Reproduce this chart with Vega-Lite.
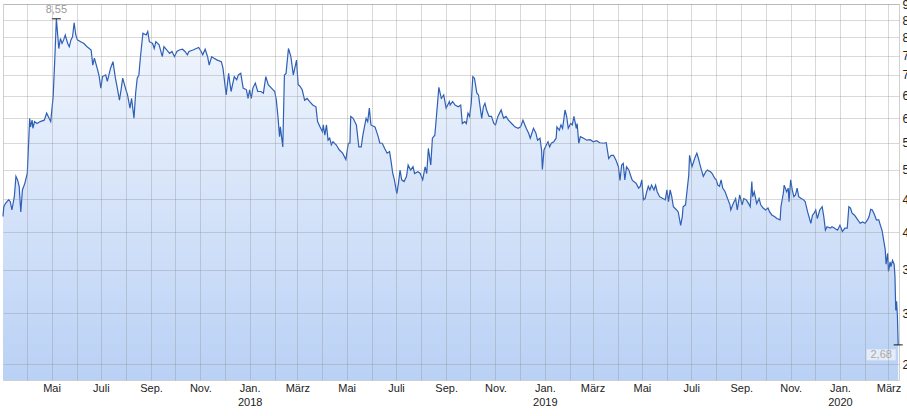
{
 "$schema": "https://vega.github.io/schema/vega-lite/v6.json",
 "width": 896, "height": 376,
 "autosize": {"type": "none"},
 "padding": {"left": 3, "top": 4, "right": 8, "bottom": 36},
 "background": "white",
 "config": {"font": "Liberation Sans", "view": {"stroke": "#d0d0d0", "strokeWidth": 1}},
 "datasets": {
  "prices": [
{"d":"2017-03-02","v":4.23},{"d":"2017-03-03","v":4.38},{"d":"2017-03-05","v":4.43},{"d":"2017-03-07","v":4.46},{"d":"2017-03-09","v":4.49},{"d":"2017-03-11","v":4.46},{"d":"2017-03-13","v":4.33},{"d":"2017-03-16","v":4.54},{"d":"2017-03-18","v":4.88},{"d":"2017-03-20","v":4.82},{"d":"2017-03-22","v":4.71},{"d":"2017-03-24","v":4.30},{"d":"2017-03-26","v":4.65},{"d":"2017-03-29","v":4.76},{"d":"2017-04-01","v":4.93},{"d":"2017-04-04","v":6.00},{"d":"2017-04-05","v":5.82},{"d":"2017-04-07","v":5.96},{"d":"2017-04-08","v":5.79},{"d":"2017-04-10","v":5.93},{"d":"2017-04-13","v":5.89},{"d":"2017-04-17","v":5.93},{"d":"2017-04-22","v":5.96},{"d":"2017-04-25","v":6.11},{"d":"2017-04-28","v":6.00},{"d":"2017-04-30","v":5.93},
{"d":"2017-05-03","v":6.48},{"d":"2017-05-05","v":7.38},{"d":"2017-05-07","v":8.55},{"d":"2017-05-10","v":7.69},{"d":"2017-05-12","v":7.97},{"d":"2017-05-14","v":7.83},{"d":"2017-05-16","v":7.93},{"d":"2017-05-18","v":8.07},{"d":"2017-05-21","v":7.83},{"d":"2017-05-23","v":7.74},{"d":"2017-05-25","v":7.93},{"d":"2017-05-27","v":8.02},{"d":"2017-05-29","v":8.43},{"d":"2017-05-31","v":8.07},{"d":"2017-06-02","v":7.93},{"d":"2017-06-06","v":7.88},{"d":"2017-06-10","v":7.83},{"d":"2017-06-14","v":7.74},{"d":"2017-06-19","v":7.65},{"d":"2017-06-21","v":7.25},{"d":"2017-06-23","v":7.43},{"d":"2017-06-27","v":7.13},{"d":"2017-06-29","v":6.96},{"d":"2017-07-01","v":6.68},{"d":"2017-07-03","v":6.96},{"d":"2017-07-07","v":7.00},{"d":"2017-07-09","v":6.84},{"d":"2017-07-13","v":7.17},{"d":"2017-07-16","v":7.34},{"d":"2017-07-19","v":6.92},{"d":"2017-07-21","v":6.72},{"d":"2017-07-24","v":6.40},{"d":"2017-07-26","v":6.64},{"d":"2017-07-28","v":6.92},{"d":"2017-08-01","v":6.64},{"d":"2017-08-03","v":6.52},{"d":"2017-08-06","v":6.22},{"d":"2017-08-08","v":6.44},{"d":"2017-08-11","v":6.00},{"d":"2017-08-13","v":6.56},{"d":"2017-08-15","v":6.92},{"d":"2017-08-17","v":7.00},{"d":"2017-08-19","v":7.47},{"d":"2017-08-22","v":8.12},{"d":"2017-08-26","v":8.07},{"d":"2017-08-28","v":8.17},
{"d":"2017-08-30","v":7.88},{"d":"2017-09-03","v":7.83},{"d":"2017-09-05","v":7.69},{"d":"2017-09-07","v":7.88},{"d":"2017-09-11","v":7.79},{"d":"2017-09-15","v":7.47},{"d":"2017-09-17","v":7.74},{"d":"2017-09-22","v":7.61},{"d":"2017-09-24","v":7.56},{"d":"2017-09-27","v":7.61},{"d":"2017-09-30","v":7.47},{"d":"2017-10-03","v":7.61},{"d":"2017-10-06","v":7.65},{"d":"2017-10-10","v":7.67},{"d":"2017-10-13","v":7.61},{"d":"2017-10-16","v":7.52},{"d":"2017-10-18","v":7.61},{"d":"2017-10-23","v":7.65},{"d":"2017-10-27","v":7.69},{"d":"2017-10-30","v":7.72},{"d":"2017-11-02","v":7.61},{"d":"2017-11-04","v":7.52},{"d":"2017-11-07","v":7.67},{"d":"2017-11-10","v":7.47},{"d":"2017-11-12","v":7.25},{"d":"2017-11-15","v":7.47},{"d":"2017-11-18","v":7.43},{"d":"2017-11-22","v":7.38},{"d":"2017-11-27","v":7.34},{"d":"2017-11-29","v":7.17},{"d":"2017-12-03","v":6.52},{"d":"2017-12-06","v":7.04},{"d":"2017-12-09","v":6.60},{"d":"2017-12-13","v":6.96},{"d":"2017-12-16","v":6.88},{"d":"2017-12-18","v":7.00},{"d":"2017-12-21","v":7.04},{"d":"2017-12-24","v":6.68},{"d":"2017-12-28","v":6.64},{"d":"2017-12-30","v":6.44},
{"d":"2018-01-01","v":6.64},{"d":"2018-01-03","v":6.44},{"d":"2018-01-05","v":6.68},{"d":"2018-01-08","v":6.80},{"d":"2018-01-11","v":6.60},{"d":"2018-01-15","v":6.60},{"d":"2018-01-18","v":6.56},{"d":"2018-01-21","v":6.96},{"d":"2018-01-24","v":6.76},{"d":"2018-01-28","v":6.68},{"d":"2018-02-01","v":6.60},{"d":"2018-02-03","v":6.40},{"d":"2018-02-05","v":6.04},{"d":"2018-02-07","v":5.62},{"d":"2018-02-08","v":5.82},{"d":"2018-02-11","v":5.42},{"d":"2018-02-13","v":7.00},{"d":"2018-02-15","v":7.04},{"d":"2018-02-18","v":7.69},{"d":"2018-02-21","v":7.47},{"d":"2018-02-24","v":7.00},{"d":"2018-02-28","v":7.38},{"d":"2018-03-02","v":6.76},
{"d":"2018-03-04","v":6.73},{"d":"2018-03-07","v":6.64},{"d":"2018-03-10","v":6.40},{"d":"2018-03-13","v":6.44},{"d":"2018-03-16","v":6.37},{"d":"2018-03-20","v":6.29},{"d":"2018-03-24","v":6.25},{"d":"2018-03-26","v":5.93},{"d":"2018-03-29","v":5.82},{"d":"2018-04-01","v":5.72},{"d":"2018-04-02","v":5.86},{"d":"2018-04-04","v":5.65},{"d":"2018-04-06","v":5.86},{"d":"2018-04-08","v":5.55},{"d":"2018-04-10","v":5.59},{"d":"2018-04-12","v":5.46},{"d":"2018-04-14","v":5.52},{"d":"2018-04-18","v":5.46},{"d":"2018-04-22","v":5.36},{"d":"2018-04-26","v":5.30},{"d":"2018-04-30","v":5.18},{"d":"2018-05-03","v":5.49},{"d":"2018-05-05","v":5.49},{"d":"2018-05-06","v":6.04},{"d":"2018-05-09","v":6.00},{"d":"2018-05-13","v":5.86},{"d":"2018-05-16","v":5.42},{"d":"2018-05-19","v":5.42},{"d":"2018-05-21","v":5.65},{"d":"2018-05-25","v":6.00},{"d":"2018-05-27","v":5.93},{"d":"2018-05-29","v":6.22},{"d":"2018-05-31","v":5.86},{"d":"2018-06-05","v":5.82},{"d":"2018-06-09","v":5.62},{"d":"2018-06-11","v":5.49},{"d":"2018-06-14","v":5.49},{"d":"2018-06-17","v":5.39},{"d":"2018-06-20","v":5.30},{"d":"2018-06-23","v":5.33},{"d":"2018-06-25","v":5.14},{"d":"2018-06-27","v":4.93},{"d":"2018-06-29","v":4.82},{"d":"2018-07-02","v":4.59},{"d":"2018-07-04","v":4.76},{"d":"2018-07-06","v":4.99},{"d":"2018-07-08","v":4.82},{"d":"2018-07-11","v":4.79},{"d":"2018-07-14","v":4.88},{"d":"2018-07-16","v":5.08},{"d":"2018-07-19","v":4.99},{"d":"2018-07-22","v":5.05},{"d":"2018-07-24","v":4.93},{"d":"2018-07-28","v":4.96},{"d":"2018-07-31","v":4.93},{"d":"2018-08-03","v":4.82},{"d":"2018-08-06","v":5.05},{"d":"2018-08-08","v":4.93},{"d":"2018-08-10","v":5.39},{"d":"2018-08-13","v":5.08},{"d":"2018-08-15","v":5.59},{"d":"2018-08-18","v":5.65},{"d":"2018-08-20","v":6.04},{"d":"2018-08-23","v":6.70},{"d":"2018-08-26","v":6.44},{"d":"2018-08-29","v":6.52},{"d":"2018-09-01","v":6.22},{"d":"2018-09-05","v":6.37},
{"d":"2018-09-06","v":6.29},{"d":"2018-09-09","v":6.37},{"d":"2018-09-12","v":6.29},{"d":"2018-09-16","v":6.25},{"d":"2018-09-19","v":6.29},{"d":"2018-09-21","v":5.89},{"d":"2018-09-24","v":5.93},{"d":"2018-09-26","v":5.89},{"d":"2018-09-28","v":6.11},{"d":"2018-09-30","v":6.04},{"d":"2018-10-02","v":6.33},{"d":"2018-10-04","v":6.96},{"d":"2018-10-06","v":6.92},{"d":"2018-10-09","v":6.56},{"d":"2018-10-11","v":6.52},{"d":"2018-10-13","v":6.25},{"d":"2018-10-15","v":6.00},{"d":"2018-10-17","v":6.25},{"d":"2018-10-19","v":6.33},{"d":"2018-10-21","v":6.18},{"d":"2018-10-24","v":6.04},{"d":"2018-10-27","v":6.04},{"d":"2018-10-30","v":5.89},{"d":"2018-11-01","v":5.86},{"d":"2018-11-04","v":6.04},{"d":"2018-11-08","v":6.18},{"d":"2018-11-11","v":6.00},{"d":"2018-11-14","v":6.04},{"d":"2018-11-17","v":5.96},{"d":"2018-11-21","v":5.89},{"d":"2018-11-25","v":5.82},{"d":"2018-11-29","v":5.79},{"d":"2018-12-02","v":5.82},{"d":"2018-12-05","v":5.96},{"d":"2018-12-09","v":5.79},{"d":"2018-12-12","v":5.69},{"d":"2018-12-14","v":5.59},{"d":"2018-12-18","v":5.79},{"d":"2018-12-21","v":5.69},{"d":"2018-12-23","v":5.55},{"d":"2018-12-26","v":5.59},{"d":"2018-12-28","v":5.36},{"d":"2018-12-29","v":5.00},{"d":"2018-12-31","v":5.36},
{"d":"2019-01-03","v":5.46},{"d":"2019-01-05","v":5.52},{"d":"2019-01-07","v":5.42},{"d":"2019-01-09","v":5.49},{"d":"2019-01-12","v":5.52},{"d":"2019-01-15","v":5.59},{"d":"2019-01-16","v":5.82},{"d":"2019-01-19","v":5.75},{"d":"2019-01-21","v":5.86},{"d":"2019-01-23","v":5.79},{"d":"2019-01-26","v":6.18},{"d":"2019-01-28","v":6.04},{"d":"2019-01-30","v":5.79},{"d":"2019-02-02","v":5.89},{"d":"2019-02-04","v":5.86},{"d":"2019-02-06","v":6.04},{"d":"2019-02-09","v":5.79},{"d":"2019-02-10","v":5.89},{"d":"2019-02-12","v":5.49},{"d":"2019-02-14","v":5.62},{"d":"2019-02-18","v":5.59},{"d":"2019-02-22","v":5.55},{"d":"2019-02-26","v":5.56},{"d":"2019-03-02","v":5.52},{"d":"2019-03-06","v":5.54},{"d":"2019-03-10","v":5.50},
{"d":"2019-03-15","v":5.49},{"d":"2019-03-18","v":5.50},{"d":"2019-03-21","v":5.20},{"d":"2019-03-24","v":5.26},{"d":"2019-03-27","v":5.26},{"d":"2019-03-30","v":5.17},{"d":"2019-04-02","v":5.05},{"d":"2019-04-04","v":4.81},{"d":"2019-04-06","v":5.08},{"d":"2019-04-08","v":5.11},{"d":"2019-04-10","v":4.82},{"d":"2019-04-12","v":5.05},{"d":"2019-04-15","v":4.99},{"d":"2019-04-17","v":4.90},{"d":"2019-04-19","v":4.82},{"d":"2019-04-21","v":4.79},{"d":"2019-04-24","v":4.76},{"d":"2019-04-27","v":4.68},{"d":"2019-04-29","v":4.71},{"d":"2019-05-01","v":4.82},{"d":"2019-05-03","v":4.49},{"d":"2019-05-05","v":4.51},{"d":"2019-05-07","v":4.62},{"d":"2019-05-09","v":4.71},{"d":"2019-05-11","v":4.65},{"d":"2019-05-13","v":4.73},{"d":"2019-05-16","v":4.65},{"d":"2019-05-18","v":4.73},{"d":"2019-05-20","v":4.62},{"d":"2019-05-23","v":4.54},{"d":"2019-05-27","v":4.51},{"d":"2019-05-30","v":4.49},{"d":"2019-06-01","v":4.65},{"d":"2019-06-03","v":4.46},{"d":"2019-06-05","v":4.65},{"d":"2019-06-07","v":4.54},{"d":"2019-06-09","v":4.38},{"d":"2019-06-13","v":4.33},{"d":"2019-06-15","v":4.30},{"d":"2019-06-18","v":4.10},{"d":"2019-06-20","v":4.23},{"d":"2019-06-21","v":4.38},{"d":"2019-06-24","v":4.41},{"d":"2019-06-26","v":4.65},{"d":"2019-06-28","v":4.90},{"d":"2019-06-29","v":5.26},{"d":"2019-07-02","v":5.05},{"d":"2019-07-04","v":5.14},{"d":"2019-07-06","v":5.23},{"d":"2019-07-08","v":5.30},{"d":"2019-07-10","v":5.20},{"d":"2019-07-12","v":5.08},{"d":"2019-07-16","v":4.88},{"d":"2019-07-19","v":4.96},{"d":"2019-07-21","v":4.99},{"d":"2019-07-25","v":4.96},{"d":"2019-07-27","v":4.93},{"d":"2019-07-30","v":4.85},{"d":"2019-08-01","v":4.82},{"d":"2019-08-03","v":4.73},{"d":"2019-08-05","v":4.71},{"d":"2019-08-07","v":4.82},{"d":"2019-08-09","v":4.68},{"d":"2019-08-12","v":4.62},{"d":"2019-08-15","v":4.51},{"d":"2019-08-18","v":4.41},{"d":"2019-08-19","v":4.33},{"d":"2019-08-22","v":4.43},{"d":"2019-08-25","v":4.51},{"d":"2019-08-27","v":4.33},{"d":"2019-08-30","v":4.57},{"d":"2019-09-02","v":4.41},{"d":"2019-09-04","v":4.51},{"d":"2019-09-07","v":4.49},{"d":"2019-09-10","v":4.43},{"d":"2019-09-12","v":4.38},
{"d":"2019-09-14","v":4.79},{"d":"2019-09-15","v":4.54},{"d":"2019-09-17","v":4.62},{"d":"2019-09-20","v":4.43},{"d":"2019-09-23","v":4.51},{"d":"2019-09-25","v":4.41},{"d":"2019-09-28","v":4.36},{"d":"2019-10-01","v":4.33},{"d":"2019-10-04","v":4.36},{"d":"2019-10-06","v":4.30},{"d":"2019-10-09","v":4.25},{"d":"2019-10-12","v":4.23},{"d":"2019-10-15","v":4.20},{"d":"2019-10-19","v":4.18},{"d":"2019-10-20","v":4.38},{"d":"2019-10-23","v":4.60},{"d":"2019-10-24","v":4.73},{"d":"2019-10-27","v":4.62},{"d":"2019-10-29","v":4.68},{"d":"2019-10-30","v":4.46},{"d":"2019-11-01","v":4.82},{"d":"2019-11-03","v":4.65},{"d":"2019-11-05","v":4.54},{"d":"2019-11-07","v":4.57},{"d":"2019-11-09","v":4.68},{"d":"2019-11-11","v":4.54},{"d":"2019-11-14","v":4.51},{"d":"2019-11-17","v":4.49},{"d":"2019-11-19","v":4.46},{"d":"2019-11-22","v":4.30},{"d":"2019-11-26","v":4.13},{"d":"2019-11-28","v":4.25},{"d":"2019-11-30","v":4.28},{"d":"2019-12-02","v":4.33},{"d":"2019-12-04","v":4.20},{"d":"2019-12-07","v":4.33},{"d":"2019-12-10","v":4.38},{"d":"2019-12-12","v":4.23},{"d":"2019-12-14","v":4.03},{"d":"2019-12-16","v":4.08},{"d":"2019-12-20","v":4.06},{"d":"2019-12-22","v":4.08},{"d":"2019-12-25","v":4.06},{"d":"2019-12-29","v":4.03},
{"d":"2020-01-01","v":4.10},{"d":"2020-01-04","v":4.01},{"d":"2020-01-07","v":4.06},{"d":"2020-01-10","v":4.06},{"d":"2020-01-12","v":4.38},{"d":"2020-01-14","v":4.36},{"d":"2020-01-16","v":4.28},{"d":"2020-01-19","v":4.25},{"d":"2020-01-22","v":4.20},{"d":"2020-01-26","v":4.13},{"d":"2020-01-29","v":4.15},{"d":"2020-02-01","v":4.13},{"d":"2020-02-04","v":4.18},{"d":"2020-02-06","v":4.23},{"d":"2020-02-08","v":4.34},{"d":"2020-02-10","v":4.33},{"d":"2020-02-13","v":4.25},{"d":"2020-02-15","v":4.18},{"d":"2020-02-18","v":4.18},{"d":"2020-02-20","v":4.10},{"d":"2020-02-22","v":4.03},{"d":"2020-02-24","v":3.89},{"d":"2020-02-26","v":3.76},{"d":"2020-02-27","v":3.57},{"d":"2020-02-29","v":3.71},{"d":"2020-03-01","v":3.48},{"d":"2020-03-03","v":3.60},{"d":"2020-03-04","v":3.54},{"d":"2020-03-06","v":3.62},{"d":"2020-03-08","v":3.57},{"d":"2020-03-09","v":3.42},{"d":"2020-03-10","v":3.03},{"d":"2020-03-11","v":3.13},{"d":"2020-03-12","v":2.98},{"d":"2020-03-13","v":2.68}
  ],
  "notes": [
   {"d":"2017-05-07","v":8.55,"label":"8,55","kind":"max"},
   {"d":"2020-03-13","v":2.68,"label":"2,68","kind":"last"}
  ]
 },
 "encoding": {
  "x": {"field": "d", "type": "temporal", "title": null,
   "scale": {"type": "utc", "domain": [{"year": 2017, "month": 3, "date": 2, "utc": true}, {"year": 2020, "month": 3, "date": 14, "utc": true}]},
   "axis": {"tickCount": {"interval": "month", "step": 1}, "grid": true, "gridColor": "#8a8a8a", "gridOpacity": 0.32, "domain": false, "ticks": false, "labelPadding": 2, "labelFontSize": 11, "labelColor": "#222", "labelFlush": false, "labelOverlap": false, "labelLineHeight": 14, "zindex": 1,
    "labelExpr": "utcmonth(datum.value) % 2 == 1 ? '' : (utcmonth(datum.value) == 0 ? ['Jan.', utcFormat(datum.value, '%Y')] : ['Jan.','Feb.','März','Apr.','Mai','Juni','Juli','Aug.','Sep.','Okt.','Nov.','Dez.'][utcmonth(datum.value)])"}},
  "y": {"field": "v", "type": "quantitative", "title": null,
   "scale": {"type": "log", "domain": [2.365, 9.01], "nice": false, "zero": false},
   "axis": {"orient": "right", "values": [2.5, 3, 3.5, 4, 4.5, 5, 5.5, 6, 6.5, 7, 7.5, 8, 8.5, 9], "grid": true, "gridColor": "#8a8a8a", "gridOpacity": 0.32, "domain": false, "ticks": false, "labelPadding": 3, "labelFontSize": 12, "labelColor": "#222", "zindex": 1,
    "labelExpr": "replace(format(datum.value, '.2f'), '.', ',')"}}
 },
 "layer": [
  {"data": {"name": "prices"},
   "mark": {"type": "area", "fill": {"gradient": "linear", "x1": 0, "y1": 0, "x2": 0, "y2": 1, "stops": [{"offset": 0, "color": "#f3f7fe"}, {"offset": 1, "color": "#b9d1f5"}]}},
   "encoding": {"y2": {"datum": 2.365}}},
  {"data": {"name": "prices"},
   "mark": {"type": "line", "color": "#2e5fb6", "strokeWidth": 1.2}},
  {"data": {"name": "notes"},
   "mark": {"type": "tick", "orient": "horizontal", "color": "#000", "size": 9, "thickness": 1.3}},
  {"data": {"name": "notes"}, "transform": [{"filter": "datum.kind == 'max'"}],
   "mark": {"type": "text", "dy": -4, "baseline": "bottom", "fontSize": 11, "color": "#999"},
   "encoding": {"text": {"field": "label"}}},
  {"data": {"name": "notes"}, "transform": [{"filter": "datum.kind == 'last'"}],
   "mark": {"type": "point", "shape": "M-1,-0.38H1V0.38H-1Z", "size": 841, "filled": true, "color": "#eef2f9", "opacity": 0.8, "strokeWidth": 0, "xOffset": -17, "yOffset": 10}},
  {"data": {"name": "notes"}, "transform": [{"filter": "datum.kind == 'last'"}],
   "mark": {"type": "text", "xOffset": -17, "yOffset": 10, "fontSize": 11, "color": "#aaa"},
   "encoding": {"text": {"field": "label"}}}
 ]
}
